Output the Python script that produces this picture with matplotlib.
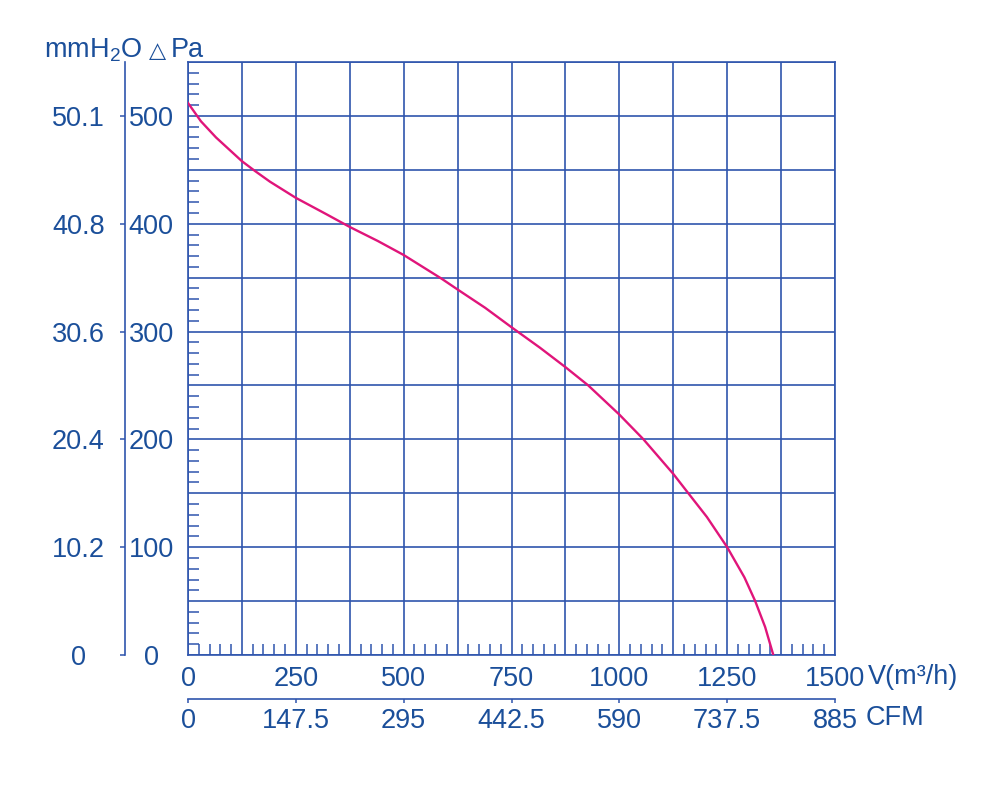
import numpy as np
import matplotlib
matplotlib.use('Agg')
import matplotlib.pyplot as plt
from matplotlib.ticker import MultipleLocator

plt.rcParams['font.family'] = ['Liberation Sans', 'DejaVu Sans']
plt.rcParams['mathtext.default'] = 'regular'

# ---- data ----
flow_m3h = [0, 30, 65, 125, 155, 190, 250, 320, 375, 440, 500, 588, 625, 689,
            750, 816, 875, 928, 1000, 1056, 1125, 1160, 1203, 1250, 1290, 1315,
            1338, 1357]
pressure_pa = [512, 495, 480, 458, 449, 439, 424, 409, 397, 384, 371, 349, 339,
               322, 304, 285, 267, 250, 223, 200, 168, 150, 128, 100, 72, 50,
               26, 0]

flow_ticks = [0, 250, 500, 750, 1000, 1250, 1500]
flow_labels = ['0', '250', '500', '750', '1000', '1250', '1500']
cfm_labels = ['0', '147.5', '295', '442.5', '590', '737.5', '885']
pa_ticks = [0, 100, 200, 300, 400, 500]
pa_labels = ['0', '100', '200', '300', '400', '500']
mmh2o_labels = ['0', '10.2', '20.4', '30.6', '40.8', '50.1']

TXT = '#1b4f9a'
LINE = '#2f55ad'
CURVE = '#e0157a'
FS = 19.5

fig = plt.figure(figsize=(10, 7.89), dpi=100)
ax = fig.add_axes([0.188, 1 - 655 / 789, 0.647, (655 - 62) / 789])
ax.set_xlim(0, 1500)
ax.set_ylim(0, 550)

xg = np.arange(0, 1501, 125)
ax.set_xticks(xg, [flow_labels[flow_ticks.index(v)] if v in flow_ticks else '' for v in xg])
yg = np.arange(0, 551, 50)
ax.set_yticks(yg, [pa_labels[pa_ticks.index(v)] if v in pa_ticks else '' for v in yg])
ax.xaxis.set_minor_locator(MultipleLocator(25))
ax.yaxis.set_minor_locator(MultipleLocator(10))
ax.grid(True, which='major', color=LINE, lw=1.2)
ax.set_axisbelow(True)
ax.tick_params(which='major', length=0, labelsize=FS, labelcolor=TXT)
ax.tick_params(axis='x', which='major', pad=8.0)
ax.tick_params(axis='y', which='major', pad=26.6)
ax.tick_params(which='minor', direction='in', length=8, width=1.1, color=LINE)
for lbl in ax.get_yticklabels():
    lbl.set_horizontalalignment('center')
for s in ax.spines.values():
    s.set_color(LINE)
    s.set_linewidth(1.2)

ax.plot(flow_m3h, pressure_pa, color=CURVE, lw=1.7, zorder=5,
        solid_joinstyle='round')

# secondary y axis (mmH2O)
sy = ax.secondary_yaxis(-(188 - 125) / 647)
sy.set_yticks(pa_ticks, mmh2o_labels)
sy.spines['left'].set_color(LINE)
sy.spines['left'].set_linewidth(1.2)
sy.tick_params(direction='out', length=3.6, width=1.1, color=LINE,
               labelsize=FS, labelcolor=TXT, pad=30)
for lbl in sy.get_yticklabels():
    lbl.set_horizontalalignment('center')

# secondary x axis (CFM)
sx = ax.secondary_xaxis(-(699 - 655) / 593)
sx.set_xticks(flow_ticks, cfm_labels)
sx.spines['bottom'].set_color(LINE)
sx.spines['bottom'].set_linewidth(1.2)
sx.tick_params(direction='out', length=3, width=1.1, color=LINE,
               labelsize=FS, labelcolor=TXT, pad=3.2)

# unit labels
fig.text(0.868, 1 - 677 / 789, 'V(m³/h)', fontsize=FS, color=TXT, ha='left', va='center')
fig.text(0.866, 1 - 718 / 789, 'CFM', fontsize=FS, color=TXT, ha='left', va='center')
fig.text(0.044, 1 - 57 / 789, 'mmH$_2$O', fontsize=FS, color=TXT, ha='left', va='baseline')
fig.text(0.149, 1 - 57 / 789, '△', fontsize=16, color=TXT, ha='left', va='baseline',
         family=['DejaVu Sans'])
fig.text(0.171, 1 - 57 / 789, 'Pa', fontsize=FS, color=TXT, ha='left', va='baseline')

fig.savefig('out.png', dpi=100)
